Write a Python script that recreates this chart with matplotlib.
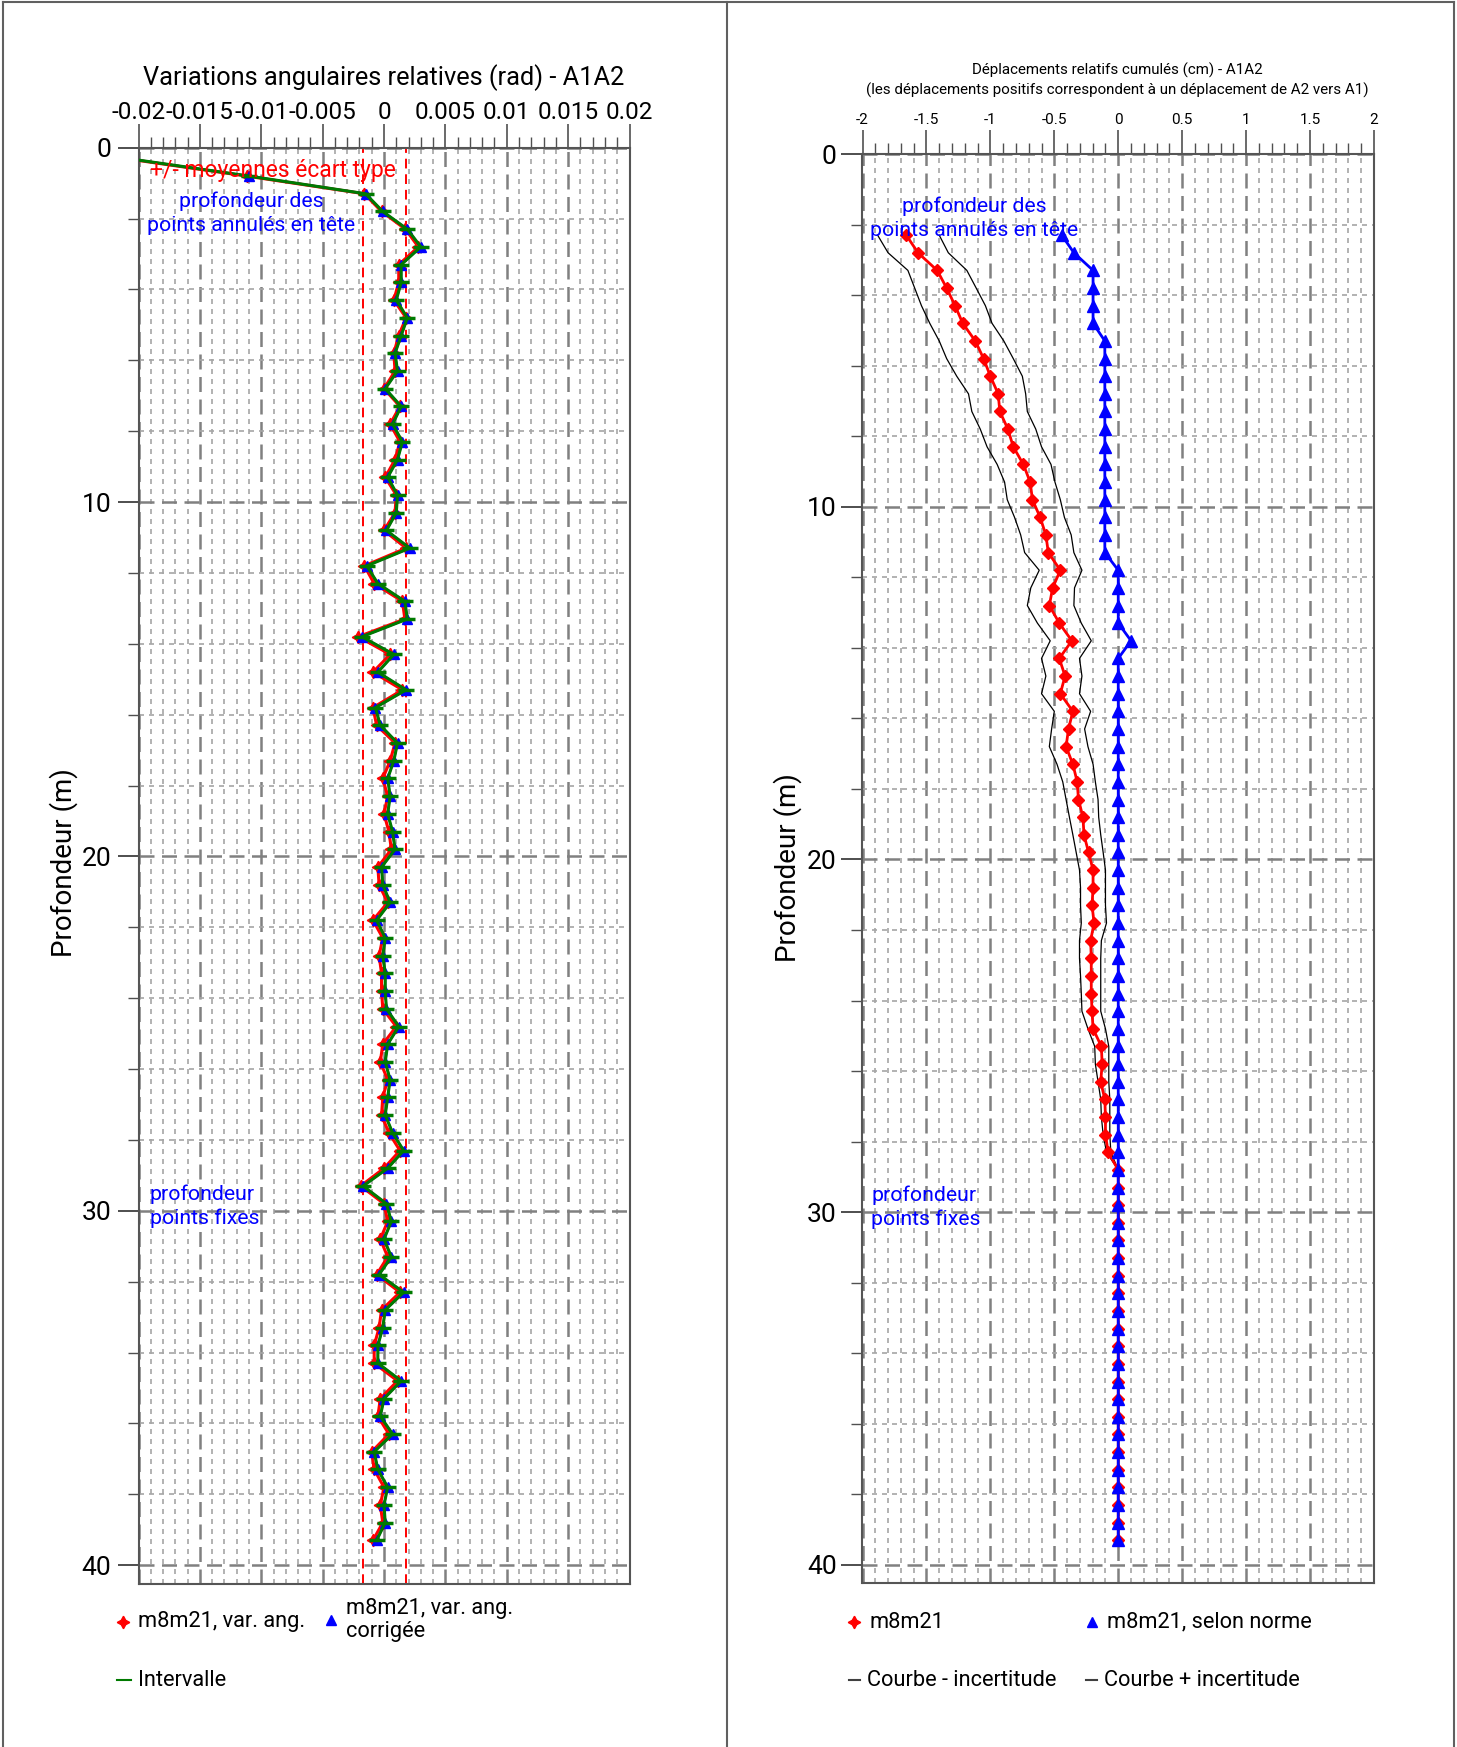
import numpy as np
import matplotlib
matplotlib.use('Agg')
import matplotlib.pyplot as plt
from matplotlib.ticker import MultipleLocator, FixedLocator
from matplotlib.lines import Line2D

plt.rcParams['font.family'] = ['Roboto', 'DejaVu Sans']

# --- data -------------------------------------------------------------
# measurement stations every 0.5 m
depth_ang = np.arange(0.3, 39.31, 0.5)
var_ang = [
    -0.0212, -0.0112, -0.0016, -0.0002, 0.00175, 0.0028, 0.0012, 0.0012, 0.0008, 0.0018,
    0.0012, 0.0008, 0.0009, 0.0000, 0.0013, 0.0005, 0.0013, 0.0009, 0.0001, 0.0010,
    0.0009, 0.0000, 0.0018, -0.0016, -0.0008, 0.0015, 0.0017, -0.0021, 0.0005, -0.0009,
    0.0015, -0.0009, -0.0006, 0.0009, 0.0005, -0.0001, 0.0003, 0.0000, 0.0004, 0.0006,
    -0.0005, -0.0004, 0.0003, -0.0009, -0.0001, -0.0004, -0.0002, -0.0002, -0.0001, 0.0010,
    -0.0001, -0.0003, 0.0003, -0.0001, -0.0002, 0.0004, 0.0013, 0.0000, -0.0019, 0.0000,
    0.0003, -0.0003, 0.0003, -0.0006, 0.0013, -0.0002, -0.0004, -0.0008, -0.0008, 0.0011,
    -0.0003, -0.0005, 0.0004, -0.0010, -0.0008, 0.0000, -0.0003, -0.0001, -0.0009]
var_ang_corr = [
    -0.0210, -0.0110, -0.0015, -0.0001, 0.0019, 0.0030, 0.0014, 0.0014, 0.0010, 0.0019,
    0.0014, 0.0009, 0.0011, 0.0001, 0.0014, 0.0007, 0.0015, 0.0011, 0.0003, 0.0011,
    0.0010, 0.0002, 0.0021, -0.0014, -0.0005, 0.0017, 0.0019, -0.0018, 0.0008, -0.0005,
    0.0018, -0.0007, -0.0003, 0.0011, 0.0008, 0.0003, 0.0005, 0.0003, 0.0007, 0.0009,
    -0.0002, -0.0001, 0.0005, -0.0006, 0.0001, -0.0001, 0.0001, 0.0001, 0.0002, 0.0012,
    0.0003, 0.0001, 0.0005, 0.0003, 0.0001, 0.0007, 0.0016, 0.0003, -0.0017, 0.0002,
    0.0006, 0.0000, 0.0006, -0.0004, 0.0016, 0.0001, -0.0001, -0.0005, -0.0005, 0.0014,
    0.0000, -0.0003, 0.0007, -0.0008, -0.0005, 0.0003, 0.0000, 0.0001, -0.0006]
ecart_type = [-0.0017, 0.0018]

depth_dep = np.arange(2.3, 39.31, 0.5)
dep = [
    -1.658, -1.566, -1.416, -1.342, -1.276, -1.216, -1.118, -1.053, -1.000, -0.939,
    -0.926, -0.863, -0.821, -0.742, -0.689, -0.671, -0.611, -0.566, -0.547, -0.453,
    -0.513, -0.539, -0.461, -0.363, -0.461, -0.416, -0.453, -0.355, -0.389, -0.408,
    -0.355, -0.321, -0.311, -0.276, -0.268, -0.232, -0.197, -0.197, -0.205, -0.189,
    -0.216, -0.211, -0.211, -0.211, -0.205, -0.197, -0.132, -0.126, -0.137, -0.105,
    -0.100, -0.100, -0.079] + [0.0] * 22
dep_moins = [
    -1.882, -1.800, -1.645, -1.592, -1.539, -1.474, -1.400, -1.342, -1.263, -1.171,
    -1.145, -1.079, -1.026, -0.947, -0.889, -0.868, -0.811, -0.763, -0.732, -0.618,
    -0.684, -0.711, -0.632, -0.532, -0.600, -0.566, -0.600, -0.500, -0.521, -0.539,
    -0.479, -0.434, -0.408, -0.382, -0.355, -0.329, -0.303, -0.295, -0.295, -0.289,
    -0.303, -0.303, -0.295, -0.289, -0.284, -0.237, -0.184, -0.179, -0.158, -0.137,
    -0.132, -0.118, -0.092] + [0.0] * 22
dep_plus = [
    -1.400, -1.329, -1.184, -1.111, -1.039, -0.987, -0.895, -0.821, -0.750, -0.724,
    -0.711, -0.645, -0.600, -0.526, -0.495, -0.453, -0.421, -0.368, -0.347, -0.284,
    -0.342, -0.347, -0.289, -0.211, -0.303, -0.284, -0.303, -0.216, -0.263, -0.237,
    -0.197, -0.179, -0.158, -0.153, -0.137, -0.118, -0.100, -0.100, -0.100, -0.092,
    -0.132, -0.137, -0.137, -0.137, -0.137, -0.100, -0.074, -0.074, -0.074, -0.066,
    -0.066, -0.066, -0.058] + [0.0] * 22
dep_norme = ([-0.442, -0.347, -0.197, -0.197, -0.197, -0.197] + [-0.105] * 13
             + [0.0] * 4 + [0.10] + [0.0] * 51)

xticks_ang = [-0.02, -0.015, -0.01, -0.005, 0, 0.005, 0.01, 0.015, 0.02]
xlabels_ang = ['-0.02', '-0.015', '-0.01', '-0.005', '0', '0.005', '0.01', '0.015', '0.02']
xticks_dep = [-2, -1.5, -1, -0.5, 0, 0.5, 1, 1.5, 2]
xlabels_dep = ['-2', '-1.5', '-1', '-0.5', '0', '0.5', '1', '1.5', '2']
yticks = [0, 10, 20, 30, 40]

# --- figure -------------------------------------------------------------
W, H = 1457, 1747
fig = plt.figure(figsize=(W / 100, H / 100), dpi=100)


def fx(px):
    return px / W


def fy(py):
    return 1 - py / H


RED = '#ff0000'
BLUE = '#0000ff'
GREEN = '#007a00'

# frame around both panels
for xs, ys in [([3, 3], [1747, 2]), ([3, 1454], [2, 2]), ([1454, 1454], [2, 1747]),
               ([727, 727], [2, 1747])]:
    fig.add_artist(Line2D([fx(x) for x in xs], [fy(y) for y in ys], color='#606060', lw=1.5))


def style_axes(ax, xticks, xlabels, xminor, xsize, xpad, ypad):
    ax.xaxis.tick_top()
    ax.xaxis.set_major_locator(FixedLocator(xticks))
    ax.set_xticklabels(xlabels)
    ax.xaxis.set_minor_locator(MultipleLocator(xminor))
    ax.yaxis.set_major_locator(FixedLocator(yticks))
    ax.yaxis.set_minor_locator(MultipleLocator(2))
    ax.tick_params(axis='x', which='major', length=17, width=1.2, color='#505050',
                   labelsize=xsize, pad=xpad)
    ax.tick_params(axis='x', which='minor', length=8, width=1, color='#505050')
    ax.tick_params(axis='y', which='major', length=15, width=1.2, color='#303030',
                   labelsize=19, pad=ypad)
    ax.tick_params(axis='y', which='minor', length=8, width=1, color='#505050')
    ax.grid(which='minor', color='#a6a6a6', ls=(0, (3, 3)), lw=1.2)
    ax.grid(which='major', color='#808080', ls=(0, (6, 3)), lw=1.8)
    for s in ax.spines.values():
        s.set_color('#555555')
        s.set_linewidth(1.5)
    ax.set_axisbelow(True)


# --- left panel: angular variations ------------------------------------
ax1 = fig.add_axes([fx(138.5), fy(1584.3), fx(629.5 - 138.5), (1584.3 - 147.7) / H])
ax1.set_xlim(-0.02, 0.02)
ax1.set_ylim(40.54, 0)
style_axes(ax1, xticks_ang, xlabels_ang, 0.001, 17.5, 0, 4.5)

for v in ecart_type:
    ax1.axvline(v, color=RED, ls=(0, (5, 3)), lw=1.4)
ax1.plot(var_ang, depth_ang, color=RED, lw=2.2, marker=(4, 1, 0), ms=9, zorder=3)
ax1.plot(var_ang_corr, depth_ang, color=BLUE, lw=1.5, marker='^', ms=7, zorder=4)
ax1.plot(var_ang_corr, depth_ang, color=GREEN, lw=2.2, marker='_', ms=12, mew=2.5, zorder=5)

ax1.text(-0.0191, 0.63, '+/- moyennes écart type', color=RED, fontsize=16.5,
         ha='left', va='center', zorder=6)
ax1.text(-0.0108, 1.85, 'profondeur des\npoints annulés en tête', color=BLUE, fontsize=15.3,
         ha='center', va='center', multialignment='center', linespacing=1.3, zorder=6)
ax1.text(-0.01907, 29.86, 'profondeur\npoints fixes', color=BLUE, fontsize=15.3,
         ha='left', va='center', linespacing=1.3, zorder=6)

fig.text(fx(384), fy(78), 'Variations angulaires relatives (rad) - A1A2', fontsize=18.3,
         ha='center', va='center')
fig.text(fx(64), fy(863), 'Profondeur (m)', fontsize=20, rotation=90, ha='center', va='center')

# --- right panel: cumulated displacements -------------------------------
ax2 = fig.add_axes([fx(862.5), fy(1583.3), fx(1374 - 862.5), (1583.3 - 154) / H])
ax2.set_xlim(-2, 2)
ax2.set_ylim(40.52, 0)
style_axes(ax2, xticks_dep, xlabels_dep, 0.1, 11, 2.5, 3.5)

ax2.plot(dep_moins, depth_dep, color='black', lw=0.9, zorder=3)
ax2.plot(dep_plus, depth_dep, color='black', lw=0.9, zorder=3)
ax2.plot(dep, depth_dep, color=RED, lw=2, marker='D', ms=6, zorder=4)
ax2.plot(dep_norme, depth_dep, color=BLUE, lw=2, marker='^', ms=8, zorder=5)

ax2.text(-1.127, 1.82, 'profondeur des\npoints annulés en tête', color=BLUE, fontsize=15.3,
         ha='center', va='center', multialignment='center', linespacing=1.35, zorder=6)
ax2.text(-1.933, 29.85, 'profondeur\npoints fixes', color=BLUE, fontsize=15.3,
         ha='left', va='center', linespacing=1.3, zorder=6)

fig.text(fx(1117), fy(80), 'Déplacements relatifs cumulés (cm) - A1A2\n'
         '(les déplacements positifs correspondent à un déplacement de A2 vers A1)',
         fontsize=10.9, ha='center', va='center', linespacing=1.4)
fig.text(fx(788), fy(868), 'Profondeur (m)', fontsize=20, rotation=90, ha='center', va='center')

# --- legends --------------------------------------------------------------
def legend_item(px, py, text, marker=None, color='black', line=None, ms=8):
    if marker is not None:
        fig.add_artist(Line2D([fx(px)], [fy(py)], marker=marker, color=color, ms=ms, ls='none'))
    if line is not None:
        fig.add_artist(Line2D([fx(line[0]), fx(line[1])], [fy(py), fy(py)], color=color, lw=1.5))
    fig.text(fx(px + 15 if marker is not None else line[1] + 7), fy(py), text, fontsize=15.7,
             ha='left', va='center', linespacing=1.15)


legend_item(122.5, 1622, 'm8m21, var. ang.', marker=(4, 1, 0), color=RED, ms=9)
legend_item(331, 1620, 'm8m21, var. ang.\ncorrigée', marker='^', color=BLUE, ms=7)
legend_item(None, 1680, 'Intervalle', color=GREEN, line=(117, 131))
legend_item(854, 1622, 'm8m21', marker=(4, 1, 0), color=RED, ms=9)
legend_item(1092, 1622, 'm8m21, selon norme', marker='^', color=BLUE, ms=7)
legend_item(None, 1680, 'Courbe - incertitude', color='#404040', line=(849, 860))
legend_item(None, 1680, 'Courbe + incertitude', color='#404040', line=(1086, 1097))

fig.savefig('out.png', dpi=100)
